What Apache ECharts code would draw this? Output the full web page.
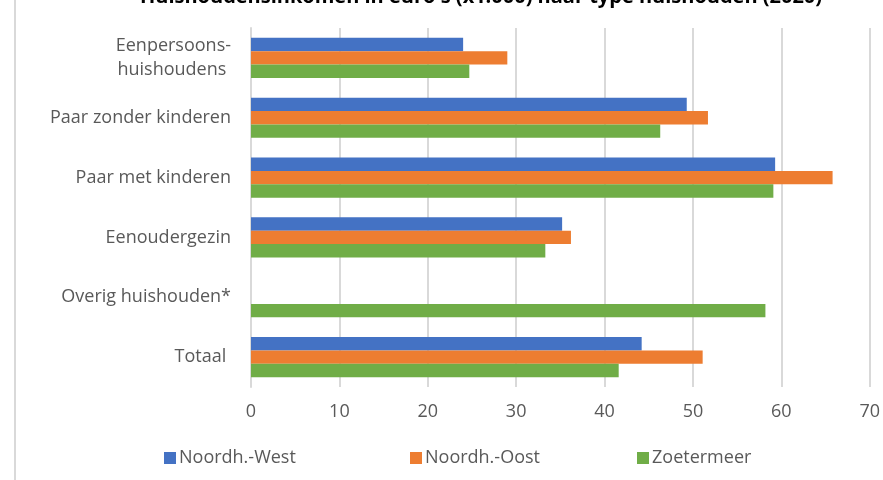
<!DOCTYPE html>
<html><head><meta charset="utf-8">
<script src="https://cdn.jsdelivr.net/npm/echarts@6/dist/echarts.min.js"></script>
<style>html,body{margin:0;padding:0;background:#fff}#c{width:883px;height:480px}</style>
</head><body><div id="c"></div>
<script>
const categories = ["Eenpersoons-\nhuishoudens ", "Paar zonder kinderen", "Paar met kinderen", "Eenoudergezin", "Overig huishouden*", "Totaal "];
const noordWest = [24.0, 49.3, 59.3, 35.2, null, 44.2];
const noordOost = [29.0, 51.7, 65.8, 36.2, null, 51.1];
const zoetermeer = [24.7, 46.3, 59.1, 33.3, 58.2, 41.6];
const seriesNames = ["Noordh.-West", "Noordh.-Oost", "Zoetermeer"];
const colors = ["#4472C4", "#ED7D31", "#70AD47"];
const xTicks = {min: 0, max: 70, interval: 10};
const titleText = "Huishoudensinkomen in euro's (x1.000) naar type huishouden (2020)";

const font = "'Open Sans', sans-serif";
const chart = echarts.init(document.getElementById('c'), null, {renderer: 'canvas'});
const legendLeft = [164, 410, 637];
chart.setOption({
  animation: false,
  backgroundColor: '#fff',
  color: colors,
  title: {text: titleText, left: 476, textAlign: 'center', top: -18,
    textStyle: {fontFamily: "'Open Sans', sans-serif", fontWeight: 'bold', fontSize: 20, color: '#000'}},
  graphic: [{type: 'line', shape: {x1: 15, y1: 0, x2: 15, y2: 480}, style: {stroke: '#d9d9d9', lineWidth: 2}}],
  legend: seriesNames.map((n, i) => ({
    data: [n], left: legendLeft[i], top: 449, padding: 0, itemWidth: 12, itemHeight: 12, itemGap: 0,
    icon: 'rect', textStyle: {fontFamily: font, fontSize: 18, color: '#595959', padding: [0, 0, 0, -2]}
  })),
  grid: {left: 251, right: 11, top: 28, bottom: 93, containLabel: false},
  xAxis: {type: 'value', min: xTicks.min, max: xTicks.max, interval: xTicks.interval,
    axisLine: {show: false}, axisTick: {show: false},
    splitLine: {lineStyle: {color: '#d9d9d9', width: 2}},
    axisLabel: {fontFamily: font, fontSize: 18, color: '#595959', margin: 16}},
  yAxis: {type: 'category', data: categories, inverse: true,
    axisLine: {lineStyle: {color: '#d9d9d9', width: 2}}, axisTick: {show: false},
    axisLabel: {fontFamily: font, fontSize: 18, color: '#595959', margin: 20, lineHeight: 24, align: 'right'}},
  series: [noordWest, noordOost, zoetermeer].map((d, i) => ({
    type: 'bar', name: seriesNames[i], data: d, barGap: '0%', barCategoryGap: '33%',
    itemStyle: {color: colors[i]}
  }))
});
</script></body></html>
